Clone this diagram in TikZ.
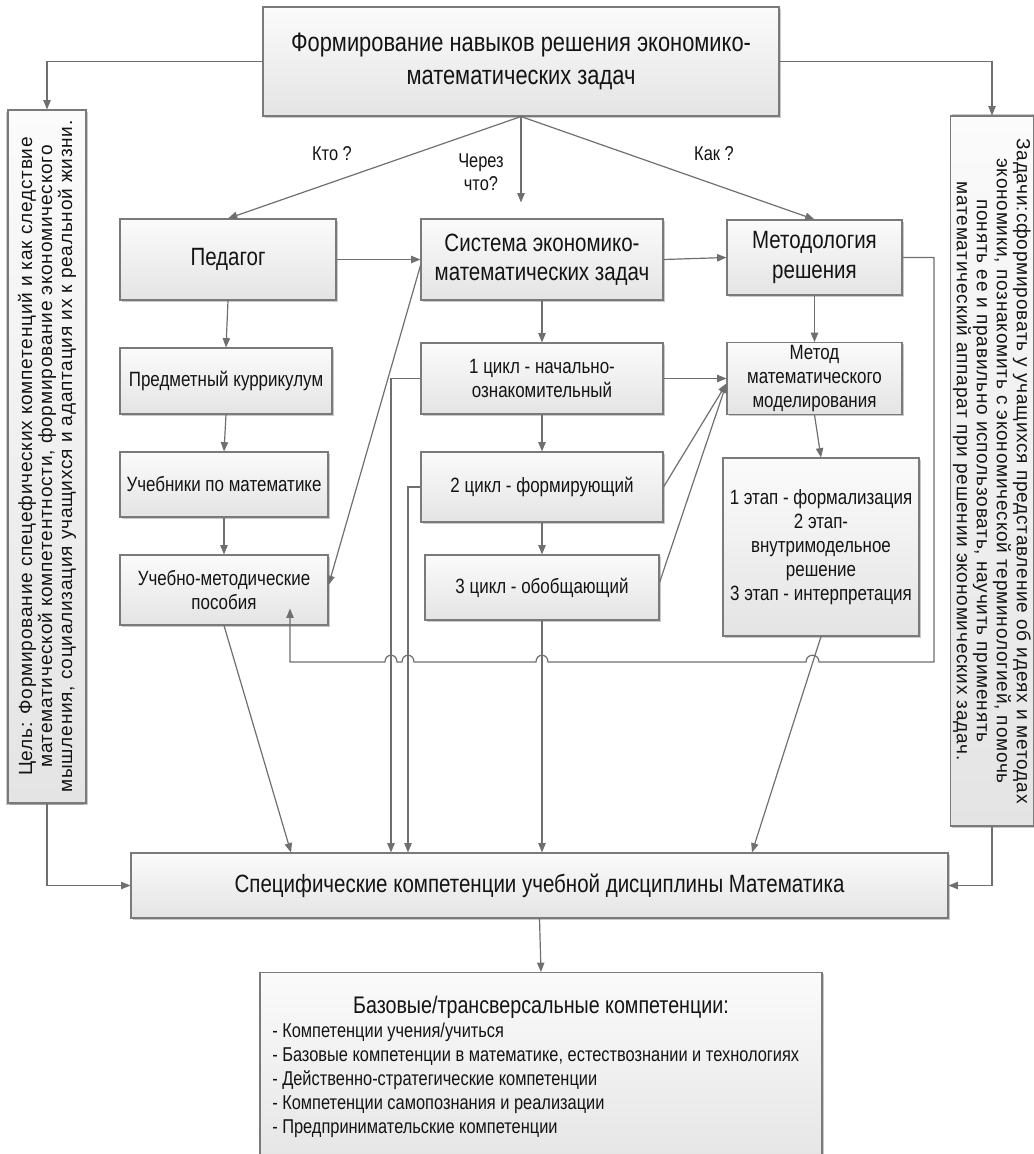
\documentclass[tikz,border=0pt]{standalone}
\usepackage{fontspec}
\setmainfont{Liberation Sans}
\newfontfamily\nar[FakeStretch=0.82]{Liberation Sans}
\newfontfamily\spc[LetterSpace=4]{Liberation Sans}
\usetikzlibrary{arrows.meta,shadows,calc}
\definecolor{lncol}{HTML}{6F6F6F}
\definecolor{bdcol}{HTML}{7A7A7A}
\definecolor{fillT}{HTML}{FBFBFB}
\definecolor{fillB}{HTML}{E4E4E4}
\definecolor{txtc}{HTML}{141414}
\newcommand\fTop{\nar\fontsize{20}{24.75}\selectfont}
\newcommand\fBig{\nar\fontsize{18.75}{22}\selectfont}
\newcommand\fSm{\nar\fontsize{15.5}{18}\selectfont}
\newcommand\fSide{\spc\fontsize{14.3}{15}\selectfont}
\newcommand\fLab{\nar\fontsize{15}{17.25}\selectfont}
\newcommand\fBT{\nar\fontsize{18}{21}\selectfont}
\newcommand\fIt{\nar\fontsize{15}{18}\selectfont}
\begin{document}
\begin{tikzpicture}[x=0.75pt,y=-0.75pt,
  bx/.style={draw=bdcol, line width=0.8pt, top color=fillT, bottom color=fillB,
    align=center, text=txtc, inner sep=2pt,
    drop shadow={shadow xshift=1.3pt,shadow yshift=-1.3pt,opacity=0.3,fill=black!70}},
  wh/.style 2 args={minimum width=#1*0.75pt, minimum height=#2*0.75pt},
  ln/.style={draw=lncol, line width=0.9pt},
  arr/.style={ln, -{Triangle[length=7pt,width=5.5pt]}},
  lab/.style={font=\fLab, text=txtc, align=center}
]
\useasboundingbox (0,0) rectangle (1033,1154);

% boxes
\node[bx, wh={516}{109}, font=\fTop] (top) at (521,61.5) {Формирование навыков решения экономико-\\математических задач};
\node[bx, rotate=90, wh={693}{78}, font=\fSide,
  drop shadow={shadow xshift=-1.3pt,shadow yshift=-1.3pt,opacity=0.3,fill=black!70}] (left) at (47,456.5)
  {Цель: Формирование спецефических компетенций и как следствие\\математической компетентности, формирование экономического\\мышления, социализация учащихся и адаптация их к реальной жизни.};
\node[bx, rotate=-90, wh={710}{78}, font=\fSide,
  drop shadow={shadow xshift=1.3pt,shadow yshift=1.3pt,opacity=0.3,fill=black!70}] (right) at (992,471)
  {Задачи:сформировать у учащихся представление об идеях и методах\\экономики, познакомить с экономической терминологией, помочь\\понять ее и правильно использовать, научить применять\\математический аппарат при решении экономических задач.};
\node[bx, wh={216}{81}, font=\fBig] (ped) at (228,259.5) {Педагог};
\node[bx, wh={242}{81}, font=\fBig] (sys) at (542,259.5) {Система экономико-\\математических задач};
\node[bx, wh={175}{75}, font=\fBig] (meth) at (814.5,257.5) {Методология\\решения};
\node[bx, wh={212}{66}, font=\fSm] (cur) at (226,381) {Предметный куррикулум};
\node[bx, wh={208}{65}, font=\fSm] (tb) at (224,484.5) {Учебники по математике};
\node[bx, wh={208}{70}, font=\fSm] (umk) at (224,590) {Учебно-методические\\пособия};
\node[bx, wh={242}{71}, font=\fSm] (c1) at (542,378.5) {1 цикл - начально-\\ознакомительный};
\node[bx, wh={242}{70}, font=\fSm] (c2) at (542,487) {2 цикл - формирующий};
\node[bx, wh={234}{65}, font=\fSm] (c3) at (542,587.5) {3 цикл - обобщающий};
\node[bx, wh={175}{71}, font=\fSm] (mm) at (814.5,378.5) {Метод\\математического\\моделирования};
\node[bx, wh={196}{178}, font=\fSm] (st) at (821,547) {1 этап - формализация\\2 этап-\\внутримодельное\\решение\\3 этап - интерпретация};
\node[bx, wh={817}{65}, font=\fBig] (bot) at (539.5,885.5) {Специфические компетенции учебной дисциплины Математика};
\node[bx, wh={562}{200}, anchor=north] (base) at (541,972) {};
\node[font=\fBT, text=txtc] (bt) at (541,1007) {Базовые/трансверсальные компетенции:};
\node[font=\fIt, text=txtc, align=left, anchor=west, inner sep=0pt] (bl) at (272,1080)
  {- Компетенции учения/учиться\\- Базовые компетенции в математике, естествознании и технологиях\\- Действенно-стратегические компетенции\\- Компетенции самопознания и реализации\\- Предпринимательские компетенции};

% labels
\node[lab] (kto) at (332,154) {Кто ?};
\node[lab] (cherez) at (481,172) {Через\\что?};
\node[lab] (kak) at (714,154) {Как ?};

% connectors
\draw[arr] (top.west) -| (left.east);
\draw[arr] (top.east) -| (right.west);
\draw[arr] (left.west) |- (bot.west);
\draw[arr] (right.east) |- (bot.east);
\draw[arr] (top.south) -- (ped.north);
\draw[arr] (top.south) -- ($(sys.north -| top.south)+(0,-16)$);
\draw[arr] (top.south) -- (meth.north);
\draw[arr] (ped.east) -- (ped.east -| sys.west);
\draw[arr] (sys.east) -- (meth.west);
\draw[arr] ($(sys.west)+(0,6)$) -- ($(umk.east)+(0,-5)$);
\draw[arr] (ped.south) -- (cur.north);
\draw[arr] (cur.south) -- (tb.north);
\draw[arr] (tb.south) -- (umk.north);
\draw[arr] (umk.south) -- (bot.north -| 291,0);
\draw[arr] (sys.south) -- (c1.north);
\draw[arr] (c1.south) -- (c2.north);
\draw[arr] (c2.south) -- (c3.north);
\draw[arr] (c3.south) -- (c3.south |- bot.north);
\draw[arr] (c1.west) -| (bot.north -| 391,0);
\draw[arr] (c2.west) -| (bot.north -| 408,0);
\draw[arr] (meth.south) -- (mm.north);
\draw[arr] (c1.east) -- (mm.west);
\draw[arr] (c2.east) -- ($(mm.west)+(0,5)$);
\draw[arr] ($(c3.east)+(0,-5)$) -- ($(mm.west)+(0,5)$);
\draw[arr] (mm.south) -- (st.north);
\draw[arr] (st.south) -- (bot.north -| 752,0);
\draw[arr] (bot.south) -- (base.north);
\draw[arr] (meth.east) -- (meth.east -| 934,0) -- (934,662) -- (819,662)
  .. controls (819,653) and (806,653) .. (806,662) -- (548,662)
  .. controls (548,653) and (536,653) .. (536,662) -- (414,662)
  .. controls (414,653) and (402,653) .. (402,662) -- (397,662)
  .. controls (397,653) and (385,653) .. (385,662) -- (290,662)
  -- ($(umk.south)+(66,-17)$);
\end{tikzpicture}
\end{document}
